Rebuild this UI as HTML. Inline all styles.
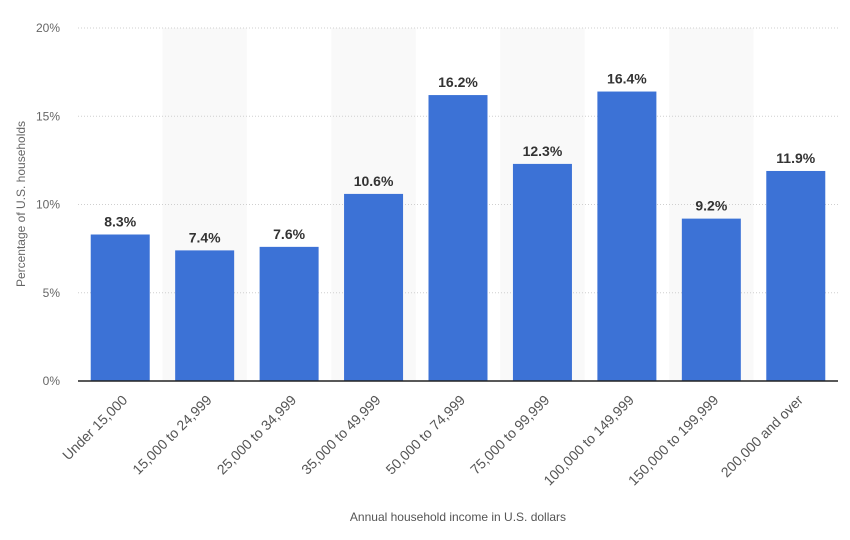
<!DOCTYPE html>
<html><head><meta charset="utf-8"><style>
body{margin:0;background:#fff;width:850px;height:535px;overflow:hidden}
svg{font-family:"Liberation Sans",sans-serif}
</style></head><body>
<svg id="chart" width="850" height="535"></svg>
<script>
const categories=["Under 15,000","15,000 to 24,999","25,000 to 34,999","35,000 to 49,999","50,000 to 74,999","75,000 to 99,999","100,000 to 149,999","150,000 to 199,999","200,000 and over"];
const values=[8.3,7.4,7.6,10.6,16.2,12.3,16.4,9.2,11.9];
const ticks=[0,5,10,15,20];
const svg=document.getElementById('chart');
const NS='http://www.w3.org/2000/svg';
const x0=78,x1=838,y0=381,yTop=28,maxV=20;
const bw=(x1-x0)/categories.length;
const y=v=>y0-(v/maxV)*(y0-yTop);
const xc=i=>x0+bw*(i+0.5);
function mk(t,a){const e=document.createElementNS(NS,t);for(const k in a)e.setAttribute(k,a[k]);svg.appendChild(e);return e;}
categories.forEach((c,i)=>{if(i%2===1){const r=mk('rect',{x:x0+bw*i,y:yTop,width:bw,height:y0-yTop,fill:'#f9f9f9'});

}});
ticks.forEach(t=>{
 if(t>0){const l=mk('line',{x1:x0,x2:x1,y1:y(t),y2:y(t),stroke:'#cfcfcf','stroke-dasharray':'1,2'});
 
 }
 const tx=mk('text',{x:60,y:y(t)+4,'text-anchor':'end','font-size':'12',fill:'#666'});tx.textContent=t+'%';
 
 
});
values.forEach((v,i)=>{
 const b=mk('rect',{x:xc(i)-29.5,y:y(v),width:59,height:y0-y(v),fill:'#3c72d6'});
 
 
 const t=mk('text',{x:xc(i),y:y(v)-8,'text-anchor':'middle','font-size':'14','font-weight':'bold',fill:'#333'});t.textContent=v.toFixed(1)+'%';
 
 
 const cx=xc(i)+8,cy=y0+20;
 const c=mk('text',{x:cx,y:cy,'text-anchor':'end','font-size':'14',fill:'#555',transform:`rotate(-45 ${cx} ${cy})`});c.textContent=categories[i];
 
 
});
const ax=mk('line',{x1:x0,x2:x1,y1:y0,y2:y0,stroke:'#222','stroke-width':1.5});


const xt=mk('text',{x:458,y:521,'text-anchor':'middle','font-size':'12',fill:'#555'});xt.textContent='Annual household income in U.S. dollars';


const yt=mk('text',{x:25,y:204,'text-anchor':'middle','font-size':'12',fill:'#666',transform:'rotate(-90 25 204)'});yt.textContent='Percentage of U.S. households';


</script>
</body></html>
